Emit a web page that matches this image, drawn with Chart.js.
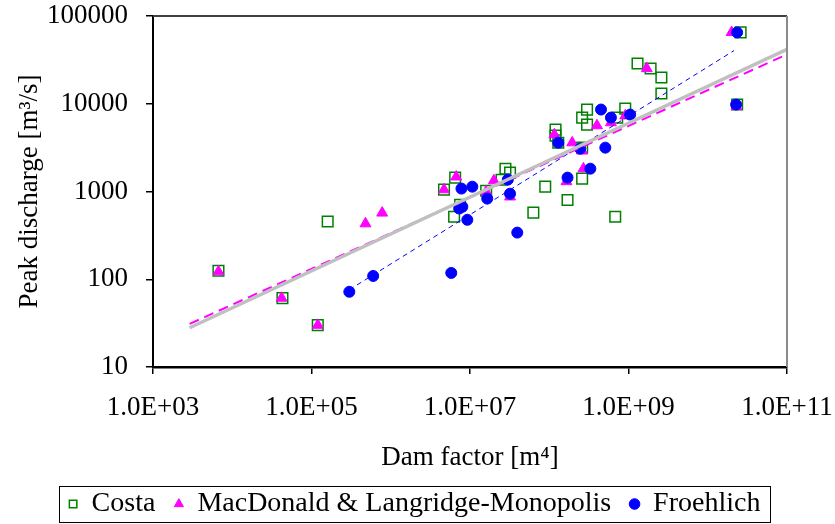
<!DOCTYPE html>
<html>
<head>
<meta charset="utf-8">
<script src="https://cdn.jsdelivr.net/npm/chart.js@4.4.1/dist/chart.umd.min.js"></script>
<style>
    html, body { margin: 0; padding: 0; background: #fff; }
</style>
</head>
<body>
<canvas id="damChart" width="835" height="524"></canvas>
<script>
// tick values
const xTicks = [1e3, 1e5, 1e7, 1e9, 1e11];
const yTicks = [10, 100, 1000, 10000, 100000];

// Costa
const costaDam = [6.7e3, 4.3e4, 1.2e5, 1.6e5, 4.7e6, 6.5e6, 6.3e6, 7.5e6, 1.6e7, 2.5e7, 2.8e7, 3.2e7,
    6.3e7, 8.9e7, 1.7e8, 1.2e8, 1.2e8, 1.3e8, 2.6e8, 3.0e8, 3.0e8, 2.6e8, 2.6e8, 7.2e8,
    9.1e8, 6.8e8, 1.3e9, 1.9e9, 2.6e9, 2.6e9, 2.6e10, 2.35e10];
const costaPeak = [125, 61, 30, 455, 1050, 1440, 515, 705, 1020, 1360, 1820, 1640,
    575, 1135, 800, 5070, 4330, 3600, 6950, 8580, 5790, 3160, 1400, 6950,
    8800, 515, 28800, 25200, 19900, 13100, 65000, 9800];

// MacDonald & Langridge-Monopolis
const macDam = [6.7e3, 4.2e4, 1.2e5, 4.8e5, 7.8e5, 4.7e6, 6.7e6, 1.6e7, 2.0e7, 3.2e7, 1.16e8,
    1.95e8, 4.0e8, 2.7e8, 1.65e8, 1.7e9, 2.0e10, 2.3e10, 2.6e8, 9.1e8, 6.0e8];
const macPeak = [122, 61, 30, 430, 570, 1050, 1470, 1000, 1330, 870, 4450,
    3600, 5640, 1820, 1300, 25200, 65000, 9300, 2900, 7300, 6100];

// Froehlich
const froDam = [3.0e5, 6.0e5, 5.8e6, 7.8e6, 1.07e7, 8.0e6, 7.3e6, 9.25e6, 1.65e7, 3.0e7, 3.2e7,
    3.95e7, 1.3e8, 2.46e8, 3.3e8, 1.7e8, 4.5e8, 6.0e8, 1.05e9, 5.1e8, 2.35e10, 2.28e10];
const froPeak = [72, 109, 118, 1080, 1135, 670, 640, 476, 830, 1365, 944,
    340, 3600, 3080, 1820, 1440, 8590, 6950, 7530, 3160, 65000, 9800];

// trend lines (end points)
const grayFitDam = [2.9e3, 1e11];
const grayFitPeak = [28, 41600];
const pinkFitDam = [2.9e3, 1e11];
const pinkFitPeak = [31, 36500];
const blueFitDam = [3.0e5, 2.15e10];
const blueFitPeak = [76, 40400];

const toPoints = (xs, ys) => xs.map((x, i) => ({ x: x, y: ys[i] }));
const serif = 'Liberation Serif';
Chart.defaults.font.family = serif;
Chart.defaults.color = '#000';

const fmtExp = (v) => {
    const e = Math.round(Math.log10(v));
    return '1.0E+' + String(e).padStart(2, '0');
};

// plot frame (top + right) and legend box
const framePlugin = {
    id: 'frame',
    afterDraw(chart) {
        const ctx = chart.ctx;
        const a = chart.chartArea;
        ctx.save();
        ctx.lineWidth = 2;
        ctx.strokeStyle = '#404040';
        ctx.beginPath();
        ctx.moveTo(a.left, a.top);
        ctx.lineTo(a.right, a.top);
        ctx.stroke();
        ctx.strokeStyle = '#8a8a8a';
        ctx.beginPath();
        ctx.moveTo(a.right, a.top);
        ctx.lineTo(a.right, a.bottom);
        ctx.stroke();

        const boxes = chart.legend.legendHitBoxes;
        if (boxes && boxes.length) {
            const minX = Math.min(...boxes.map(b => b.left));
            const maxX = Math.max(...boxes.map(b => b.left + b.width));
            const top = boxes[0].top;
            const h = boxes[0].height;
            ctx.lineWidth = 1;
            ctx.strokeStyle = '#000';
            ctx.strokeRect(Math.round(minX - 10) + 0.5, Math.round(top - 4) + 0.5, Math.round(maxX - minX + 19), Math.round(h + 8));
        }
        ctx.restore();
    }
};

new Chart(document.getElementById('damChart'), {
    type: 'scatter',
    data: {
        datasets: [
            {
                label: 'Costa',
                data: toPoints(costaDam, costaPeak),
                pointStyle: 'rect',
                pointRadius: 7.5,
                pointHoverRadius: 7.5,
                borderColor: '#008000',
                backgroundColor: 'rgba(0,0,0,0)',
                borderWidth: 1.5,
                order: 3
            },
            {
                label: 'MacDonald & Langridge-Monopolis',
                data: toPoints(macDam, macPeak),
                pointStyle: 'triangle',
                pointRadius: 6.3,
                pointHoverRadius: 6.3,
                borderColor: '#ff00ff',
                backgroundColor: '#ff00ff',
                borderWidth: 1,
                order: 2
            },
            {
                label: 'Froehlich',
                data: toPoints(froDam, froPeak),
                pointStyle: 'circle',
                pointRadius: 5.5,
                pointHoverRadius: 5.5,
                borderColor: '#0000ff',
                backgroundColor: '#0000ff',
                borderWidth: 1,
                order: 1
            },
            {
                label: 'fit-all',
                data: toPoints(grayFitDam, grayFitPeak),
                showLine: true,
                pointRadius: 0,
                borderColor: '#c0c0c0',
                borderWidth: 3.5,
                order: 0
            },
            {
                label: 'fit-mac',
                data: toPoints(pinkFitDam, pinkFitPeak),
                showLine: true,
                pointRadius: 0,
                borderColor: '#ff00ff',
                borderWidth: 2,
                borderDash: [10, 6],
                order: 0
            },
            {
                label: 'fit-fro',
                data: toPoints(blueFitDam, blueFitPeak),
                showLine: true,
                pointRadius: 0,
                borderColor: '#0000ff',
                borderWidth: 1,
                borderDash: [5, 4],
                order: 0
            }
        ]
    },
    options: {
        responsive: false,
        animation: false,
        devicePixelRatio: 1,
        layout: { padding: { left: 0, right: 6, top: 16, bottom: -4 } },
        plugins: {
            tooltip: { enabled: false },
            legend: {
                position: 'bottom',
                labels: {
                    usePointStyle: true,
                    boxWidth: 9,
                    boxHeight: 7.5,
                    padding: 19,
                    color: '#000',
                    font: { family: serif, size: 28 },
                    filter: (item) => item.datasetIndex < 3,
                    sort: (a, b) => a.datasetIndex - b.datasetIndex
                }
            }
        },
        scales: {
            x: {
                type: 'logarithmic',
                min: 1e3,
                max: 1e11,
                afterBuildTicks: (scale) => { scale.ticks = xTicks.map(v => ({ value: v })); },
                afterFit: (scale) => {
                    scale.height = 104;
                    scale.paddingLeft = 0;
                    scale.paddingRight = 48;
                },
                ticks: {
                    callback: (v) => fmtExp(v),
                    color: '#000',
                    font: { family: serif, size: 27 },
                    padding: 18,
                    maxRotation: 0,
                    autoSkip: false
                },
                grid: { display: true, drawOnChartArea: false, drawTicks: true, tickLength: 7, color: '#000', lineWidth: 1.5 },
                border: { display: true, color: '#000', width: 2.5 },
                title: {
                    display: true,
                    text: 'Dam factor [m\u2074]',
                    color: '#000',
                    font: { family: serif, size: 27, lineHeight: 1 },
                    padding: { top: 0, bottom: 0 }
                }
            },
            y: {
                type: 'logarithmic',
                min: 10,
                max: 100000,
                afterBuildTicks: (scale) => { scale.ticks = yTicks.map(v => ({ value: v })); },
                afterFit: (scale) => {
                    scale.width = 153;
                    scale.paddingTop = 0;
                    scale.paddingBottom = 0;
                },
                ticks: {
                    callback: (v) => String(v),
                    color: '#000',
                    font: { family: serif, size: 27 },
                    padding: 18
                },
                grid: { display: true, drawOnChartArea: false, drawTicks: true, tickLength: 7, color: '#000', lineWidth: 1.5 },
                border: { display: true, color: '#000', width: 2 },
                title: {
                    display: true,
                    text: 'Peak discharge [m\u00b3/s]',
                    color: '#000',
                    font: { family: serif, size: 27 },
                    padding: { top: 14, bottom: 0 }
                }
            }
        }
    },
    plugins: [framePlugin]
});
</script>
</body>
</html>
